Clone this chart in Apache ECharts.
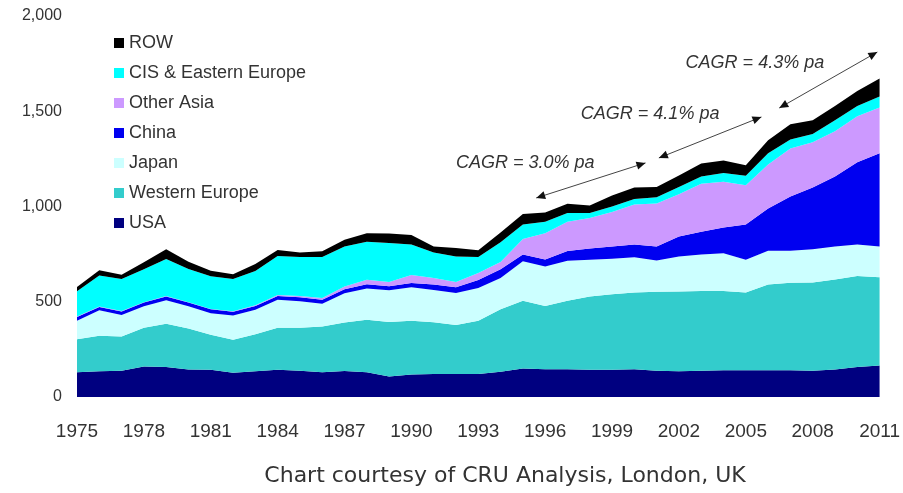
<!DOCTYPE html>
<html>
<head>
<meta charset="utf-8">
<script src="https://cdn.jsdelivr.net/npm/echarts@6/dist/echarts.min.js"></script>
<style>
  html, body { margin: 0; padding: 0; background: #fff; }
  #chart { width: 903px; height: 493px; }
</style>
</head>
<body>
<div id="chart"></div>
<script>
// years on the x axis
const years = [];
for (let y = 1975; y <= 2011; y++) years.push(String(y));

// regional values (stacked, bottom to top)
const usa = [130, 135, 138, 160, 158, 145, 143, 127, 135, 143, 138, 130, 137, 130, 108, 118, 121, 121, 121, 132, 150, 146, 146, 143, 143, 146, 138, 135, 138, 140, 140, 140, 140, 138, 145, 158, 165];
const westernEurope = [173, 187, 179, 204, 227, 215, 184, 174, 195, 221, 226, 240, 254, 276, 286, 282, 271, 257, 279, 328, 355, 332, 359, 385, 397, 403, 414, 419, 418, 416, 409, 451, 460, 463, 472, 477, 463];
const japan = [97, 133, 113, 112, 123, 116, 113, 127, 128, 146, 139, 120, 154, 164, 166, 176, 170, 168, 172, 165, 207, 207, 210, 192, 186, 185, 164, 183, 192, 199, 171, 177, 168, 174, 173, 165, 162];
const china = [20, 18, 19, 20, 20, 20, 20, 20, 20, 20, 21, 20, 21, 22, 22, 22, 28, 30, 42, 45, 36, 37, 51, 59, 64, 66, 74, 105, 120, 135, 185, 222, 285, 325, 368, 432, 490];
const otherAsia = [2, 2, 2, 2, 2, 2, 2, 2, 3, 6, 6, 10, 14, 23, 22, 42, 35, 28, 37, 39, 82, 138, 154, 161, 181, 210, 226, 222, 252, 240, 206, 230, 252, 237, 237, 242, 240];
const cisEastEurope = [133, 163, 169, 172, 195, 174, 172, 170, 181, 204, 205, 215, 210, 200, 204, 160, 133, 134, 84, 103, 75, 60, 46, 26, 29, 30, 32, 39, 38, 46, 51, 60, 47, 43, 58, 53, 57];
const row = [23, 27, 22, 38, 51, 38, 29, 25, 36, 32, 23, 30, 35, 45, 50, 50, 32, 44, 35, 52, 55, 48, 49, 39, 58, 60, 55, 60, 68, 66, 54, 68, 80, 73, 74, 79, 95];

const yTicks = [0, 500, 1000, 1500, 2000];

// CAGR annotations: [fromYear, fromValue, toYear, toValue]
const arrows = [
  [1995.6, 1045, 2000.5, 1229],
  [2001.1, 1255, 2005.7, 1470],
  [2006.5, 1517, 2010.9, 1811]
];
const cagrLabels = [
  { text: 'CAGR = 3.0% pa', year: 1992.0, value: 1230 },
  { text: 'CAGR = 4.1% pa', year: 1997.6, value: 1485 },
  { text: 'CAGR = 4.3% pa', year: 2002.3, value: 1752 }
];

const seriesDefs = [
  { name: 'USA', data: usa, color: '#000080' },
  { name: 'Western Europe', data: westernEurope, color: '#33CCCC' },
  { name: 'Japan', data: japan, color: '#CCFFFF' },
  { name: 'China', data: china, color: '#0000F0' },
  { name: 'Other Asia', data: otherAsia, color: '#CC99FF' },
  { name: 'CIS & Eastern Europe', data: cisEastEurope, color: '#00FFFF' },
  { name: 'ROW', data: row, color: '#000000' }
];

const chart = echarts.init(document.getElementById('chart'), null, { renderer: 'canvas' });

const option = {
  animation: false,
  backgroundColor: '#ffffff',
  grid: { left: 77, right: 21, top: 16, bottom: 96, containLabel: false },
  legend: {
    orient: 'vertical',
    left: 109,
    top: 29,
    icon: 'rect',
    itemWidth: 10,
    itemHeight: 10,
    itemGap: 12,
    data: ['ROW', 'CIS & Eastern Europe', 'Other Asia', 'China', 'Japan', 'Western Europe', 'USA'],
    textStyle: {
      fontFamily: 'Liberation Sans, Arial, sans-serif',
      fontSize: 18,
      lineHeight: 18,
      color: '#333'
    }
  },
  xAxis: {
    type: 'category',
    data: years,
    boundaryGap: false,
    axisLine: { show: false },
    axisTick: { show: false },
    splitLine: { show: false },
    axisLabel: {
      interval: 2,
      margin: 25,
      fontFamily: 'Liberation Sans, Arial, sans-serif',
      fontSize: 19,
      color: '#333'
    }
  },
  yAxis: {
    type: 'value',
    min: yTicks[0],
    max: yTicks[yTicks.length - 1],
    interval: 500,
    axisLine: { show: false },
    axisTick: { show: false },
    splitLine: { show: false },
    axisLabel: {
      margin: 15,
      fontFamily: 'Liberation Sans, Arial, sans-serif',
      fontSize: 16,
      color: '#333',
      formatter: v => v.toLocaleString('en-US')
    }
  },
  series: seriesDefs.map(s => ({
    name: s.name,
    type: 'line',
    stack: 'total',
    data: s.data,
    showSymbol: false,
    symbol: 'none',
    lineStyle: { width: 0 },
    itemStyle: { color: s.color },
    areaStyle: { color: s.color, opacity: 1 }
  }))
};

chart.setOption(option);

// place the CAGR arrows through the chart's own scales
const x0 = chart.convertToPixel({ xAxisIndex: 0 }, 0);
const x1 = chart.convertToPixel({ xAxisIndex: 0 }, years.length - 1);
const px = (year, value) => [
  x0 + (year - 1975) / (years.length - 1) * (x1 - x0),
  chart.convertToPixel({ yAxisIndex: 0 }, value)
];

function arrowHead (tip, from) {
  const dx = tip[0] - from[0];
  const dy = tip[1] - from[1];
  const len = Math.sqrt(dx * dx + dy * dy);
  const ux = dx / len, uy = dy / len;
  const L = 9, W = 4;
  const bx = tip[0] - ux * L, by = tip[1] - uy * L;
  return {
    type: 'polygon',
    shape: { points: [tip, [bx - uy * W, by + ux * W], [bx + uy * W, by - ux * W]] },
    style: { fill: '#111' },
    silent: true
  };
}

const elements = [];
arrows.forEach(a => {
  const p1 = px(a[0], a[1]);
  const p2 = px(a[2], a[3]);
  elements.push({
    type: 'line',
    shape: { x1: p1[0], y1: p1[1], x2: p2[0], y2: p2[1] },
    style: { stroke: '#444', lineWidth: 1 },
    silent: true
  });
  elements.push(arrowHead(p1, p2));
  elements.push(arrowHead(p2, p1));
});
cagrLabels.forEach(l => {
  const p = px(l.year, l.value);
  elements.push({
    type: 'text',
    x: p[0],
    y: p[1],
    style: {
      text: l.text,
      fill: '#333',
      font: 'italic 18px "Liberation Sans", Arial, sans-serif',
      textAlign: 'left',
      textVerticalAlign: 'middle'
    },
    silent: true
  });
});
elements.push({
  type: 'text',
  x: 505,
  y: 476,
  style: {
    text: 'Chart courtesy of CRU Analysis, London, UK',
    fill: '#333',
    font: '22px "DejaVu Sans", Verdana, sans-serif',
    textAlign: 'center',
    textVerticalAlign: 'middle'
  },
  silent: true
});

chart.setOption({ graphic: { elements: elements } });
</script>
</body>
</html>
